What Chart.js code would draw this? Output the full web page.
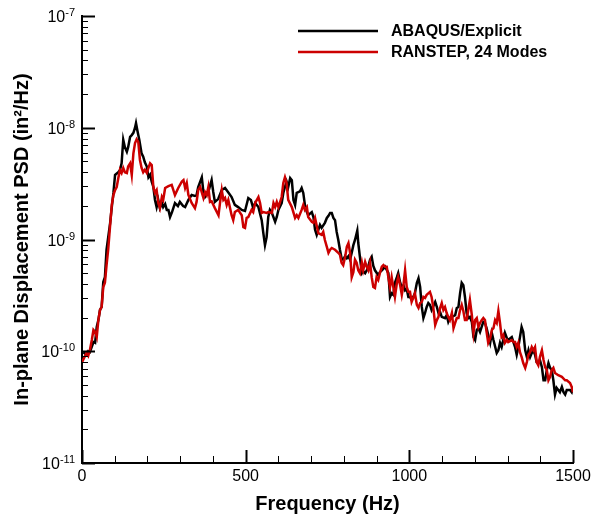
<!DOCTYPE html>
<html>
<head>
<meta charset="utf-8">
<title>In-plane displacement PSD</title>
<script src="https://cdn.jsdelivr.net/npm/chart.js@4.4.1/dist/chart.umd.min.js"></script>
<style>
  html, body { margin: 0; padding: 0; background: #fff; }
  canvas { display: block; }
</style>
</head>
<body>
<canvas id="psdChart" width="600" height="519"></canvas>
<script>
"use strict";

// ABAQUS/Explicit PSD (Hz, in^2/Hz)
const abaqusHz = [
  4, 14, 19, 24, 35, 40, 45, 50, 55, 60,
  65, 70, 75, 86, 91, 96, 101, 111, 116, 121,
  126, 131, 137, 141, 147, 152, 157, 162, 165, 169,
  175, 182, 187, 192, 198, 203, 208, 213, 218, 223,
  228, 233, 238, 244, 248, 254, 259, 264, 269, 275,
  284, 293, 299, 309, 315, 325, 335, 345, 350, 355,
  366, 371, 376, 385, 396, 401, 406, 416, 427, 437,
  446, 457, 467, 477, 488, 498, 508, 516, 523, 529,
  539, 549, 554, 559, 564, 569, 574, 580, 590, 595,
  600, 610, 615, 620, 625, 630, 636, 641, 646, 651,
  656, 666, 671, 676, 681, 687, 691, 702, 707, 712,
  717, 722, 727, 732, 742, 748, 753, 758, 763, 768,
  773, 778, 783, 788, 793, 798, 804, 809, 814, 819,
  824, 829, 834, 841, 844, 849, 855, 859, 865, 870,
  875, 880, 885, 890, 895, 905, 910, 916, 926, 936,
  941, 946, 951, 956, 962, 966, 972, 977, 982, 987,
  992, 997, 1002, 1007, 1012, 1017, 1023, 1028, 1033, 1038,
  1043, 1048, 1053, 1058, 1063, 1068, 1079, 1084, 1089, 1094,
  1099, 1109, 1114, 1119, 1124, 1130, 1140, 1145, 1150, 1155,
  1160, 1165, 1170, 1175, 1180, 1185, 1191, 1196, 1201, 1206,
  1211, 1216, 1221, 1226, 1231, 1236, 1241, 1247, 1252, 1257,
  1267, 1272, 1277, 1282, 1287, 1292, 1298, 1302, 1313, 1323,
  1328, 1333, 1338, 1343, 1348, 1354, 1359, 1364, 1369, 1374,
  1379, 1384, 1389, 1394, 1399, 1405, 1410, 1415, 1420, 1425,
  1430, 1435, 1440, 1445, 1450, 1455, 1460, 1466, 1471, 1476,
  1481, 1491, 1496, 1500,
];
const abaqusPsd = [
  9.8e-11, 9.3e-11, 1.0e-10, 9.8e-11, 1.21e-10, 1.19e-10, 1.65e-10, 1.9e-10, 2.34e-10, 2.49e-10,
  4.16e-10, 4.6e-10, 8.1e-10, 1.41e-9, 1.95e-9, 2.61e-9, 3.78e-9, 4.0e-9, 4.2e-9, 4.8e-9,
  7.8e-9, 6.7e-9, 6.1e-9, 6.7e-9, 8.3e-9, 8.6e-9, 9.0e-9, 1.0e-8, 1.1e-8, 9.5e-9,
  7.8e-9, 5.9e-9, 5.5e-9, 4.9e-9, 4.5e-9, 3.6e-9, 3.8e-9, 3.3e-9, 2.95e-9, 2.26e-9,
  1.95e-9, 2.26e-9, 1.91e-9, 2.12e-9, 1.95e-9, 2.08e-9, 1.84e-9, 1.84e-9, 1.59e-9, 1.76e-9,
  2.12e-9, 1.99e-9, 2.17e-9, 1.99e-9, 1.95e-9, 2.26e-9, 2.5e-9, 2.45e-9, 2.5e-9, 2.95e-9,
  3.6e-9, 2.66e-9, 2.4e-9, 2.61e-9, 3.4e-9, 2.66e-9, 2.17e-9, 2.3e-9, 2.77e-9, 2.89e-9,
  2.66e-9, 2.4e-9, 2.04e-9, 1.95e-9, 1.84e-9, 1.8e-9, 2.35e-9, 2.26e-9, 1.91e-9, 2.12e-9,
  1.95e-9, 1.49e-9, 1.14e-9, 8.9e-10, 1.05e-9, 1.59e-9, 1.84e-9, 1.73e-9, 1.44e-9, 1.59e-9,
  1.84e-9, 2.12e-9, 2.61e-9, 2.95e-9, 3.3e-9, 2.95e-9, 3.55e-9, 3.4e-9, 2.26e-9, 2.04e-9,
  2.61e-9, 2.7e-9, 2.89e-9, 2.61e-9, 2.04e-9, 1.76e-9, 1.65e-9, 1.76e-9, 1.59e-9, 1.22e-9,
  1.1e-9, 1.22e-9, 1.35e-9, 1.27e-9, 1.41e-9, 1.56e-9, 1.63e-9, 1.73e-9, 1.73e-9, 1.56e-9,
  1.49e-9, 1.17e-9, 9.9e-10, 8.1e-10, 6.8e-10, 6.6e-10, 7.1e-10, 6.8e-10, 7.1e-10, 6.6e-10,
  7.6e-10, 8.9e-10, 9.9e-10, 1.2e-9, 9.3e-10, 7.0e-10, 5.0e-10, 5.2e-10, 5.0e-10, 5.3e-10,
  5.8e-10, 6.6e-10, 7.0e-10, 5.8e-10, 5.3e-10, 4.8e-10, 5.1e-10, 5.3e-10, 5.7e-10, 5.0e-10,
  3.06e-10, 3.3e-10, 3.2e-10, 4.1e-10, 4.6e-10, 5.0e-10, 4.1e-10, 3.76e-10, 3.9e-10, 3.5e-10,
  3.6e-10, 3.06e-10, 3.06e-10, 2.88e-10, 3.06e-10, 3.3e-10, 4.1e-10, 4.5e-10, 3.76e-10, 2.49e-10,
  1.98e-10, 2.2e-10, 2.49e-10, 2.7e-10, 2.6e-10, 2.34e-10, 2.76e-10, 2.49e-10, 2.2e-10, 2.24e-10,
  2.03e-10, 1.98e-10, 2.1e-10, 1.83e-10, 1.98e-10, 2.03e-10, 2.1e-10, 2.44e-10, 2.49e-10, 3.3e-10,
  4.1e-10, 3.9e-10, 3.06e-10, 2.2e-10, 1.98e-10, 2.03e-10, 1.83e-10, 1.34e-10, 1.26e-10, 1.55e-10,
  1.61e-10, 1.49e-10, 1.65e-10, 1.83e-10, 1.79e-10, 1.61e-10, 1.4e-10, 1.19e-10, 1.46e-10, 1.26e-10,
  9.65e-11, 1.02e-10, 1.19e-10, 1.09e-10, 1.26e-10, 1.46e-10, 1.31e-10, 1.26e-10, 1.34e-10, 1.09e-10,
  9.3e-11, 1.09e-10, 1.34e-10, 1.65e-10, 1.49e-10, 1.02e-10, 8.9e-11, 1.02e-10, 8.9e-11, 9.65e-11,
  1.02e-10, 9.3e-11, 8.0e-11, 7.85e-11, 8.35e-11, 7.2e-11, 5.5e-11, 5.5e-11, 6.8e-11, 7.85e-11,
  7.1e-11, 6.8e-11, 5.5e-11, 4.1e-11, 4.7e-11, 4.5e-11, 4.3e-11, 4.8e-11, 4.3e-11, 4.1e-11,
  4.5e-11, 4.5e-11, 4.3e-11, 4.8e-11,
];

// RANSTEP, 24 modes
const ranstepHz = [
  0, 14, 19, 24, 30, 35, 40, 45, 50, 55,
  60, 65, 70, 75, 80, 86, 91, 96, 101, 106,
  111, 116, 121, 126, 131, 137, 141, 147, 152, 157,
  162, 167, 172, 177, 182, 187, 192, 198, 203, 208,
  213, 218, 223, 228, 233, 238, 244, 248, 254, 264,
  274, 284, 294, 305, 310, 315, 320, 325, 335, 345,
  350, 355, 361, 371, 376, 381, 386, 391, 396, 406,
  417, 422, 427, 432, 437, 442, 447, 457, 462, 467,
  477, 488, 493, 498, 503, 508, 518, 523, 529, 539,
  544, 549, 554, 564, 569, 580, 585, 590, 595, 600,
  610, 615, 620, 625, 630, 641, 651, 656, 661, 671,
  676, 681, 687, 691, 702, 707, 712, 722, 732, 737,
  742, 748, 753, 758, 763, 773, 783, 788, 793, 798,
  804, 809, 814, 819, 824, 829, 834, 839, 844, 849,
  855, 859, 865, 870, 875, 880, 885, 890, 895, 900,
  905, 910, 916, 921, 926, 931, 936, 941, 946, 951,
  956, 962, 966, 972, 977, 982, 987, 992, 997, 1002,
  1007, 1012, 1017, 1023, 1028, 1033, 1038, 1043, 1048, 1053,
  1058, 1063, 1068, 1073, 1079, 1084, 1089, 1094, 1099, 1104,
  1109, 1114, 1119, 1124, 1130, 1135, 1140, 1145, 1150, 1155,
  1160, 1165, 1170, 1175, 1180, 1185, 1191, 1196, 1201, 1206,
  1211, 1216, 1221, 1226, 1231, 1236, 1241, 1247, 1252, 1257,
  1262, 1267, 1272, 1277, 1282, 1287, 1292, 1298, 1302, 1313,
  1318, 1323, 1328, 1333, 1338, 1343, 1348, 1354, 1359, 1364,
  1369, 1374, 1379, 1384, 1389, 1394, 1399, 1405, 1410, 1415,
  1420, 1425, 1430, 1435, 1440, 1445, 1455, 1466, 1476, 1481,
  1491, 1496, 1500,
];
const ranstepPsd = [
  8.0e-11, 9.65e-11, 9.1e-11, 1.02e-10, 1.26e-10, 1.55e-10, 1.49e-10, 1.34e-10, 1.9e-10, 2.34e-10,
  2.49e-10, 3.76e-10, 4.1e-10, 5.9e-10, 8.1e-10, 1.35e-9, 2.04e-9, 2.5e-9, 2.77e-9, 2.95e-9,
  3.55e-9, 4.2e-9, 3.94e-9, 4.37e-9, 4.0e-9, 3.94e-9, 4.5e-9, 4.8e-9, 3.78e-9, 5.9e-9,
  7.3e-9, 7.9e-9, 7.45e-9, 5.15e-9, 4.37e-9, 4.0e-9, 4.2e-9, 3.94e-9, 4.37e-9, 4.8e-9,
  4.64e-9, 2.95e-9, 2.61e-9, 2.77e-9, 2.12e-9, 1.91e-9, 2.4e-9, 2.26e-9, 2.89e-9, 3.0e-9,
  3.08e-9, 2.5e-9, 2.89e-9, 3.3e-9, 3.4e-9, 2.89e-9, 3.2e-9, 2.5e-9, 2.12e-9, 1.91e-9,
  2.17e-9, 2.77e-9, 2.95e-9, 2.35e-9, 2.66e-9, 2.5e-9, 2.95e-9, 2.17e-9, 2.2e-9, 1.91e-9,
  1.65e-9, 2.17e-9, 2.77e-9, 2.26e-9, 2.35e-9, 2.04e-9, 2.26e-9, 1.65e-9, 1.49e-9, 1.76e-9,
  1.84e-9, 1.65e-9, 1.29e-9, 1.27e-9, 1.56e-9, 1.59e-9, 1.84e-9, 1.76e-9, 2.12e-9, 2.4e-9,
  2.12e-9, 1.73e-9, 1.76e-9, 1.73e-9, 1.76e-9, 1.73e-9, 2.12e-9, 1.95e-9, 2.17e-9, 1.95e-9,
  2.4e-9, 3.2e-9, 3.6e-9, 3.2e-9, 2.26e-9, 1.95e-9, 1.56e-9, 1.65e-9, 1.56e-9, 1.84e-9,
  2.04e-9, 1.84e-9, 1.95e-9, 1.59e-9, 1.44e-9, 1.41e-9, 1.56e-9, 1.14e-9, 1.1e-9, 1.17e-9,
  9.9e-10, 8.6e-10, 7.6e-10, 8.1e-10, 8.4e-10, 8.1e-10, 7.6e-10, 7.3e-10, 6.2e-10, 5.9e-10,
  7.0e-10, 8.6e-10, 9.3e-10, 7.6e-10, 4.6e-10, 5.1e-10, 6.6e-10, 6.2e-10, 5.3e-10, 5.0e-10,
  6.2e-10, 5.3e-10, 6.3e-10, 5.7e-10, 5.3e-10, 6.2e-10, 4.6e-10, 3.76e-10, 3.68e-10, 4.6e-10,
  4.34e-10, 5.0e-10, 5.7e-10, 5.9e-10, 5.7e-10, 5.7e-10, 4.6e-10, 3.76e-10, 4.6e-10, 3.76e-10,
  3.06e-10, 4.1e-10, 4.6e-10, 3.9e-10, 3.2e-10, 3.9e-10, 5.3e-10, 3.76e-10, 3.4e-10, 3.4e-10,
  2.76e-10, 3.0e-10, 3.3e-10, 2.6e-10, 2.44e-10, 2.7e-10, 2.76e-10, 3.06e-10, 3.0e-10, 3.2e-10,
  3.3e-10, 3.4e-10, 3.06e-10, 2.49e-10, 1.72e-10, 1.9e-10, 2.03e-10, 2.44e-10, 2.7e-10, 2.34e-10,
  2.49e-10, 2.2e-10, 2.03e-10, 1.9e-10, 2.2e-10, 1.61e-10, 1.79e-10, 1.98e-10, 1.98e-10, 2.34e-10,
  2.6e-10, 2.29e-10, 1.9e-10, 1.9e-10, 2.34e-10, 2.88e-10, 2.1e-10, 1.46e-10, 1.9e-10, 1.98e-10,
  1.65e-10, 1.79e-10, 1.9e-10, 1.98e-10, 1.9e-10, 1.49e-10, 1.19e-10, 1.31e-10, 1.55e-10, 1.61e-10,
  1.9e-10, 1.79e-10, 2.29e-10, 1.79e-10, 1.34e-10, 1.4e-10, 1.19e-10, 1.26e-10, 1.21e-10, 1.26e-10,
  1.21e-10, 1.21e-10, 1.09e-10, 1.19e-10, 9.8e-11, 8.9e-11, 7.85e-11, 7.1e-11, 8.0e-11, 9.3e-11,
  9.8e-11, 1.09e-10, 1.02e-10, 1.09e-10, 8.0e-11, 7.5e-11, 8.9e-11, 1.02e-10, 8.35e-11, 7.2e-11,
  6.8e-11, 5.5e-11, 5.9e-11, 6.8e-11, 7.1e-11, 6.4e-11, 6.1e-11, 5.9e-11, 5.5e-11, 5.5e-11,
  5.2e-11, 4.8e-11, 4.3e-11,
];

const seriesLabels = ["ABAQUS/Explicit", "RANSTEP, 24 Modes"];

// axis ticks
const xMajorTicks = [0, 500, 1000, 1500];
const xMinorTicks = [100, 200, 300, 400, 600, 700, 800, 900, 1100, 1200, 1300, 1400];
const yDecadeExps = [-11, -10, -9, -8, -7];
const yMinorMantissas = [2, 3, 4, 5, 6, 7, 8, 9];

const FONT = "'Liberation Sans', Arial, Helvetica, sans-serif";
const RED = "#cc0000";

const toPoints = (xs, ys) => xs.map((x, i) => ({ x, y: ys[i] }));

if (abaqusHz.length !== abaqusPsd.length || ranstepHz.length !== ranstepPsd.length) {
  console.error("series length mismatch", abaqusHz.length, abaqusPsd.length, ranstepHz.length, ranstepPsd.length);
}

// inward tick marks, 10^n labels and the legend box inside the plot
const axisDecor = {
  id: "axisDecor",
  afterDraw(chart) {
    const { ctx, chartArea: a, scales } = chart;
    const x = scales.x;
    const y = scales.y;
    ctx.save();
    ctx.strokeStyle = "#000";
    ctx.lineCap = "butt";

    const tick = (x1, y1, x2, y2, w) => {
      ctx.lineWidth = w;
      ctx.beginPath();
      ctx.moveTo(x1, y1);
      ctx.lineTo(x2, y2);
      ctx.stroke();
    };

    xMajorTicks.forEach((v) => {
      const px = Math.round(x.getPixelForValue(v)) + 0.5;
      tick(px, a.bottom, px, a.bottom - 13, 2);
    });
    xMinorTicks.forEach((v) => {
      const px = Math.round(x.getPixelForValue(v)) + 0.5;
      tick(px, a.bottom, px, a.bottom - 7, 1);
    });

    yDecadeExps.forEach((e, i) => {
      const py = Math.round(y.getPixelForValue(Math.pow(10, e))) + 0.5;
      tick(a.left, py, a.left + 13, py, 2);
      if (i < yDecadeExps.length - 1) {
        yMinorMantissas.forEach((m) => {
          const pm = Math.round(y.getPixelForValue(m * Math.pow(10, e))) + 0.5;
          tick(a.left, pm, a.left + 6, pm, 1);
        });
      }

      // label: "10" with a raised exponent
      const exp = String(e);
      ctx.fillStyle = "#000";
      ctx.textBaseline = "middle";
      ctx.font = "11px " + FONT;
      const ew = ctx.measureText(exp).width;
      const right = a.left - 7;
      ctx.textAlign = "left";
      ctx.fillText(exp, right - ew, py - 4);
      ctx.font = "16px " + FONT;
      ctx.textAlign = "right";
      ctx.fillText("10", right - ew, py + 1);
    });

    // legend
    const rows = [31, 52];
    chart.data.datasets.forEach((d, i) => {
      ctx.strokeStyle = d.borderColor;
      tick(298, rows[i], 378, rows[i], 2.5);
      ctx.fillStyle = "#000";
      ctx.font = "bold 16px " + FONT;
      ctx.textAlign = "left";
      ctx.textBaseline = "middle";
      ctx.fillText(d.label, 391, rows[i] + 1);
    });
    ctx.restore();
  },
};

new Chart(document.getElementById("psdChart"), {
  type: "line",
  data: {
    datasets: [
      {
        label: seriesLabels[0],
        data: toPoints(abaqusHz, abaqusPsd),
        borderColor: "#000000",
        borderWidth: 2.5,
        pointRadius: 0,
        tension: 0,
        fill: false,
        order: 2,
      },
      {
        label: seriesLabels[1],
        data: toPoints(ranstepHz, ranstepPsd),
        borderColor: RED,
        borderWidth: 2.5,
        pointRadius: 0,
        tension: 0,
        fill: false,
        order: 1,
      },
    ],
  },
  options: {
    responsive: false,
    animation: false,
    events: [],
    layout: { padding: { top: 16, right: 27, left: 0, bottom: 0 } },
    plugins: {
      legend: { display: false },
      tooltip: { enabled: false },
    },
    scales: {
      x: {
        type: "linear",
        min: 0,
        max: 1500,
        grid: { display: false, drawTicks: false },
        border: { display: true, color: "#000", width: 2 },
        ticks: {
          stepSize: 500,
          maxRotation: 0,
          padding: 4,
          color: "#000",
          font: { family: FONT, size: 16 },
          callback: (v) => String(v),
        },
        title: {
          display: true,
          text: "Frequency (Hz)",
          color: "#000",
          font: { family: FONT, size: 20, weight: "bold" },
          padding: { top: 0, bottom: 3 },
        },
        afterFit: (s) => { s.height = 56; },
      },
      y: {
        type: "logarithmic",
        min: 1e-11,
        max: 1e-7,
        grid: { display: false, drawTicks: false },
        border: { display: true, color: "#000", width: 2 },
        ticks: { display: false },
        title: {
          display: true,
          text: "In-plane Displacement PSD (in²/Hz)",
          color: "#000",
          font: { family: FONT, size: 20, weight: "bold" },
          padding: { top: 10, bottom: 0 },
        },
        afterFit: (s) => { s.width = 82; },
      },
    },
  },
  plugins: [axisDecor],
});
</script>
</body>
</html>
